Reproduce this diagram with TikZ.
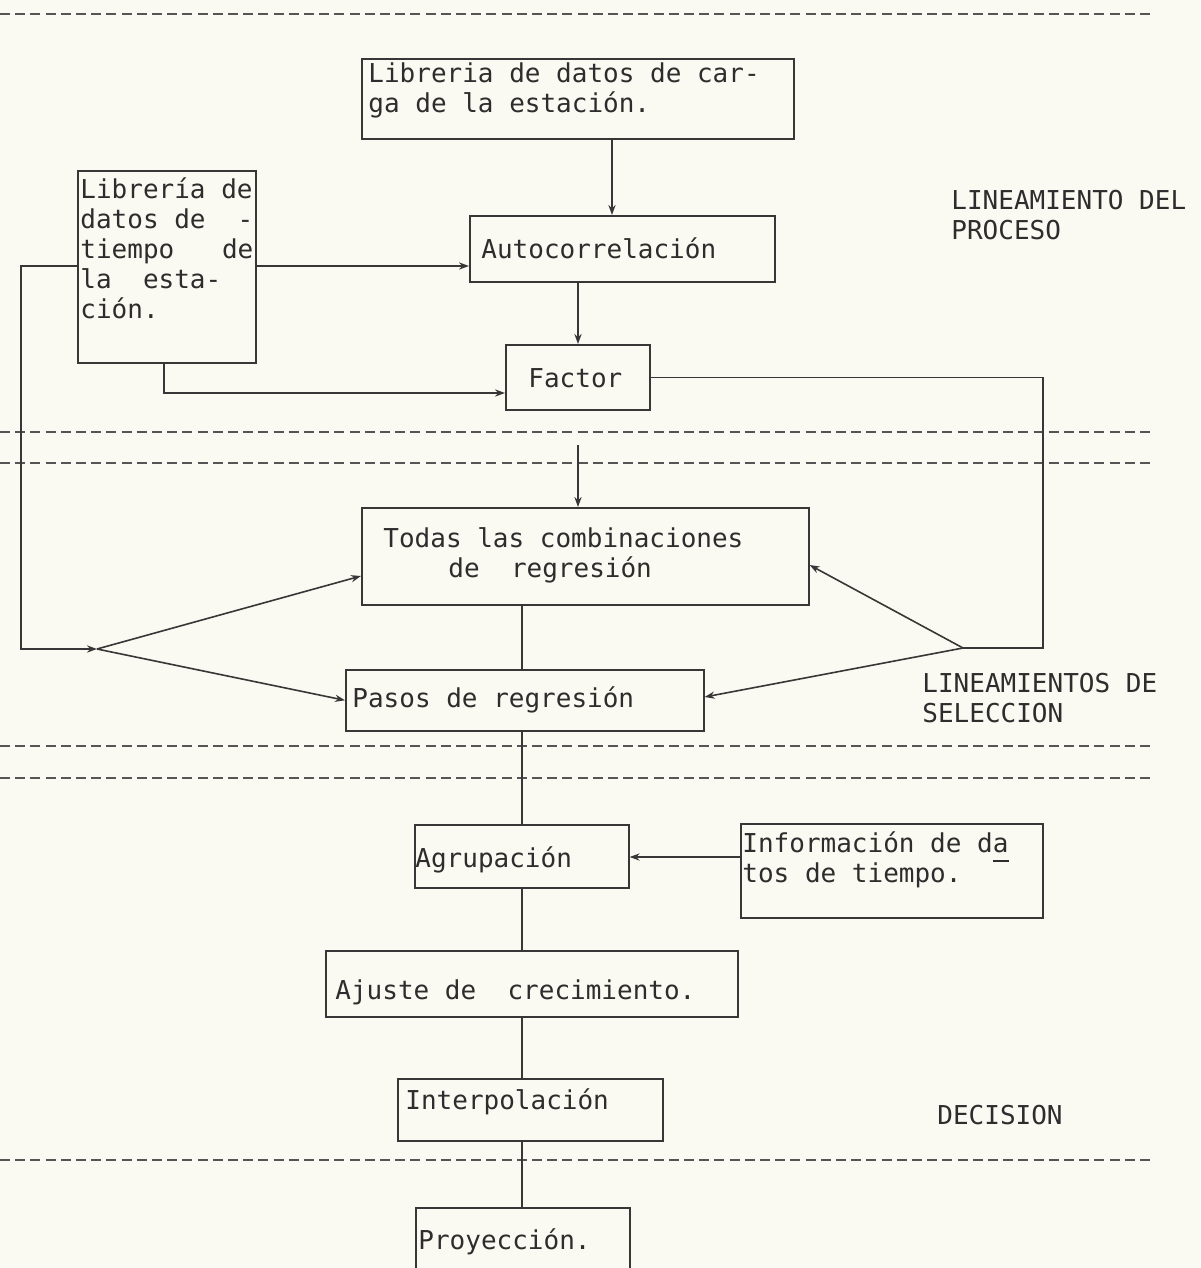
\documentclass[tikz,border=0pt]{standalone}
\usepackage{fontspec}
\newfontfamily\monofnt{DejaVu Sans Mono}
\usetikzlibrary{arrows.meta}
\definecolor{paper}{RGB}{251,250,242}
\definecolor{ink}{RGB}{55,55,55}
\definecolor{inktext}{RGB}{45,45,45}
\tikzset{
  boxnode/.style={draw=ink, line width=0.8pt, inner sep=0pt, anchor=north west},
  txt/.style={font=\monofnt\fontsize{13pt}{15pt}\selectfont, text=inktext, inner sep=0pt, anchor=west, align=left},
  conn/.style={draw=ink, line width=0.8pt},
  arr/.style={conn, -{Stealth[length=5pt,width=3.6pt]}},
  sep/.style={draw=ink!85, line width=0.9pt, dash pattern=on 5pt off 2.6pt}
}
\begin{document}
\begin{tikzpicture}[x=0.5pt,y=-0.5pt]
\useasboundingbox (0,0) rectangle (1200,1268);
\fill[paper] (0,0) rectangle (1200,1268);
\clip (0,0) rectangle (1200,1268);

% separators
\draw[sep] (0,14) -- (1150,14);
\draw[sep] (0,432) -- (1155,432);
\draw[sep] (0,463) -- (1150,463);
\draw[sep] (0,746) -- (1150,746);
\draw[sep] (0,778) -- (1150,778);
\draw[sep] (0,1160) -- (1150,1160);

% boxes
\node[boxnode, minimum width=216pt, minimum height=40pt] (carga) at (361,58) {};
\node[boxnode, minimum width=89pt, minimum height=96pt] (tiempo) at (77,170) {};
\node[boxnode, minimum width=152.5pt, minimum height=33pt] (autocorr) at (469,215) {};
\node[boxnode, minimum width=72pt, minimum height=32.5pt] (factor) at (505,344) {};
\node[boxnode, minimum width=223.5pt, minimum height=48.5pt] (todas) at (361,507) {};
\node[boxnode, minimum width=179pt, minimum height=30.5pt] (pasos) at (345,669) {};
\node[boxnode, minimum width=107pt, minimum height=31.5pt] (agrup) at (414,824) {};
\node[boxnode, minimum width=151pt, minimum height=47pt] (info) at (740,823) {};
\node[boxnode, minimum width=206pt, minimum height=33pt] (ajuste) at (325,950) {};
\node[boxnode, minimum width=132.5pt, minimum height=31pt] (interp) at (397,1078) {};
\node[boxnode, minimum width=107pt, minimum height=60pt] (proy) at (415,1207) {};

% box texts
\node[txt] (cargat) at (368,90) {Libreria de datos de car-\\ga de la estación.};
\node[txt, text width=86.5pt] (tiempot) at (80,248) {\spaceskip=0pt\xspaceskip=0pt\relax Librería de\\datos de\hfill-\\tiempo\hfill de\\la\ \ esta-\\ción.};
\node[txt] (autocorrt) at (481,248) {Autocorrelación};
\node[txt] (factort) at (528,378) {Factor};
\node[txt] (todast) at (383,555) {Todas las combinaciones\\\hspace*{32.5pt}de\ \ regresión};
\node[txt] (pasost) at (352,700) {Pasos de regresión};
\node[txt] (agrupt) at (415,860) {Agrupación};
\node[txt] (infot) at (742,860) {Información de da\llap{\raisebox{-4.5pt}{\rule{8pt}{0.7pt}}}\\tos de tiempo.};
\node[txt] (ajustet) at (335,992) {Ajuste de\ \ crecimiento.};
\node[txt] (interpt) at (405,1102) {Interpolación};
\node[txt] (proyt) at (418,1242) {Proyección.};

% side labels
\node[txt] (lproc) at (951,215) {LINEAMIENTO DEL\\PROCESO};
\node[txt] (lsel) at (922,698) {LINEAMIENTOS DE\\SELECCION};
\node[txt] (ldec) at (937,1115) {DECISION};

% helper coordinates
\coordinate (xA) at (612,0);
\coordinate (xB) at (578,0);
\coordinate (xC) at (522,0);
\coordinate (xD) at (164,0);
\coordinate (xL) at (21,0);
\coordinate (xR) at (1043,0);
\coordinate (yT) at (0,266);
\coordinate (yF) at (0,393);
\coordinate (yTL) at (0,576);
\coordinate (yTR) at (0,565);
\coordinate (yPR) at (0,697);
\coordinate (yI) at (0,857);
\coordinate (jl) at (97,649);
\coordinate (jr) at (963,648);
\coordinate (tin) at (578,445);

% connectors
\draw[arr] (xA |- carga.south) -- (xA |- autocorr.north);
\draw[arr] (tiempo.east |- yT) -- (autocorr.west |- yT);
\draw[arr] (tiempo.west |- yT) -| (xL |- jl) -- (jl);
\draw[arr] (xD |- tiempo.south) |- (factor.west |- yF);
\draw[arr] (xB |- autocorr.south) -- (xB |- factor.north);
\draw[conn] (factor.east) -| (xR |- jr) -- (jr);
\draw[arr] (jr) -- (todas.east |- yTR);
\draw[arr] (jr) -- (pasos.east |- yPR);
\draw[arr] (jl) -- (todas.west |- yTL);
\draw[arr] (jl) -- (pasos.west);
\draw[arr] (tin) -- (xB |- todas.north);
\draw[conn] (xC |- todas.south) -- (xC |- pasos.north);
\draw[conn] (xC |- pasos.south) -- (xC |- agrup.north);
\draw[arr] (info.west |- yI) -- (agrup.east |- yI);
\draw[conn] (xC |- agrup.south) -- (xC |- ajuste.north);
\draw[conn] (xC |- ajuste.south) -- (xC |- interp.north);
\draw[conn] (xC |- interp.south) -- (xC |- proy.north);
\end{tikzpicture}
\end{document}
